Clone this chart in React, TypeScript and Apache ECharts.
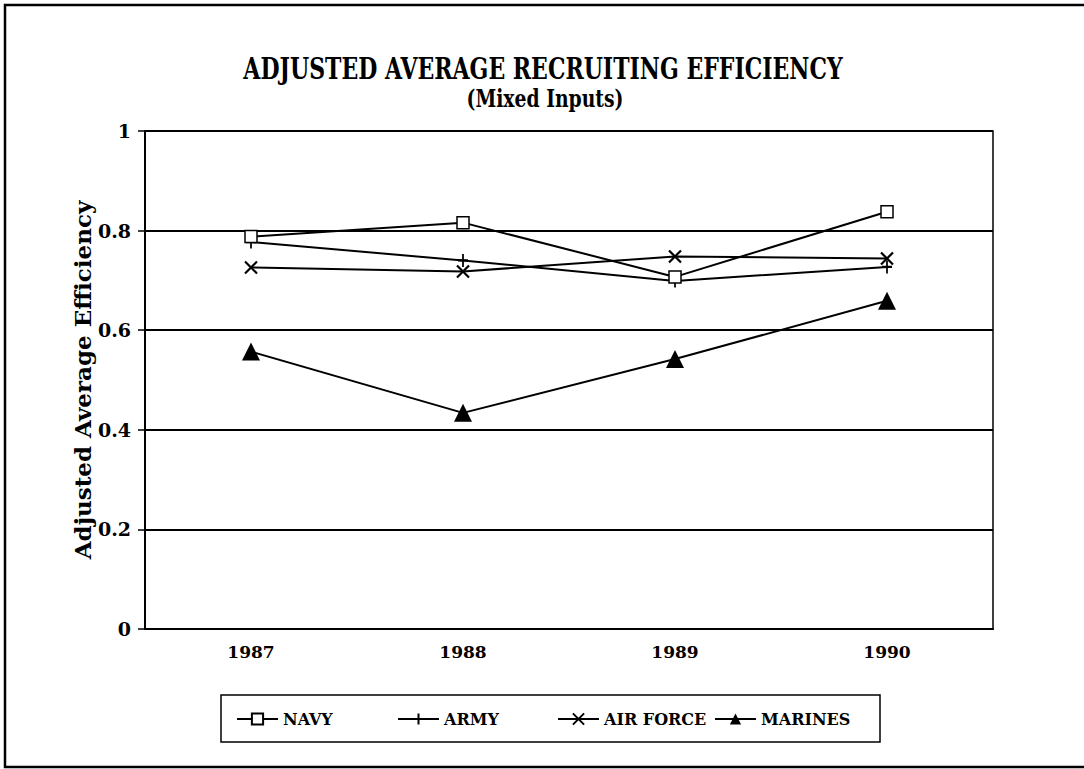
import React, { useEffect, useRef } from "react";
import * as echarts from "echarts";

const titleText = "ADJUSTED AVERAGE RECRUITING EFFICIENCY";
const subtitleText = "(Mixed Inputs)";
const yAxisName = "Adjusted Average Efficiency";
const years = ["1987", "1988", "1989", "1990"];
const seriesNames = ["NAVY", "ARMY", "AIR FORCE", "MARINES"];
const navy = [0.788, 0.816, 0.707, 0.838];
const army = [0.777, 0.74, 0.699, 0.727];
const airForce = [0.726, 0.718, 0.748, 0.744];
const marines = [0.557, 0.434, 0.542, 0.659];

const SERIF = "DejaVu Serif, serif";

function measure(text: string, font: string): number {
  const c = document.createElement("canvas").getContext("2d");
  if (!c) return text.length * 10;
  c.font = font;
  return c.measureText(text).width;
}

export default function App() {
  const ref = useRef<HTMLDivElement>(null);
  useEffect(() => {
    document.body.style.margin = "0";
    if (!ref.current) return;
    const chart = echarts.init(ref.current, null, { renderer: "svg" });

    const titleFont = `bold 30px ${SERIF}`;
    const subFont = `bold 25px ${SERIF}`;
    const titleScale = 600 / measure(titleText, titleFont);
    const subScale = 157 / measure(subtitleText, subFont);

    const lineStyle = { color: "#000", width: 2 };
    const legendFont = {
      fontFamily: SERIF,
      fontWeight: "bold" as const,
      fontSize: 16,
      color: "#000",
    };
    const legendLefts = [231, 392, 552, 709];

    chart.setOption({
      animation: false,
      backgroundColor: "#fff",
      grid: {
        left: 145,
        right: 91,
        top: 131,
        bottom: 140,
        show: true,
        borderColor: "#000",
        borderWidth: 1.5,
        backgroundColor: "transparent",
      },
      legend: seriesNames.map((n, i) => ({
        data: [n],
        left: legendLefts[i],
        top: 706,
        itemWidth: 41,
        itemHeight: 14,
        itemGap: 0,
        textStyle: legendFont,
        selectedMode: false,
      })),
      xAxis: {
        type: "category",
        data: years,
        boundaryGap: true,
        axisLine: { lineStyle: { color: "#000", width: 2 } },
        axisTick: { alignWithLabel: true, length: 6, lineStyle: { color: "#000", width: 1.5 } },
        axisLabel: {
          color: "#000",
          fontFamily: SERIF,
          fontWeight: "bold",
          fontSize: 17,
          margin: 14,
        },
      },
      yAxis: {
        type: "value",
        min: 0,
        max: 1,
        interval: 0.2,
        name: yAxisName,
        nameLocation: "middle",
        nameGap: 51,
        nameMoveOverlap: false,
        nameTextStyle: {
          color: "#000",
          fontFamily: SERIF,
          fontWeight: "bold",
          fontSize: 23,
        },
        axisLine: { show: true, lineStyle: { color: "#000", width: 2 } },
        axisTick: { show: true, length: 7, lineStyle: { color: "#000", width: 1.5 } },
        axisLabel: {
          color: "#000",
          fontFamily: SERIF,
          fontWeight: "bold",
          fontSize: 19,
          margin: 14,
        },
        splitLine: { show: true, lineStyle: { color: "#000", width: 2 } },
      },
      series: [
        {
          name: seriesNames[0],
          type: "line",
          data: navy,
          symbol: "rect",
          symbolSize: 12,
          lineStyle,
          itemStyle: { color: "#fff", borderColor: "#000", borderWidth: 1.5 },
          z: 4,
        },
        {
          name: seriesNames[1],
          type: "line",
          data: army,
          symbol: "path://M5,0L5,12M0,6L10,6",
          symbolSize: [10, 13],
          lineStyle,
          itemStyle: { color: "#000", borderColor: "#000", borderWidth: 2 },
          z: 3,
        },
        {
          name: seriesNames[2],
          type: "line",
          data: airForce,
          symbol: "path://M0,0L10,10M0,10L10,0",
          symbolSize: 12,
          lineStyle,
          itemStyle: { color: "#000", borderColor: "#000", borderWidth: 2.2 },
          z: 3,
        },
        {
          name: seriesNames[3],
          type: "line",
          data: marines,
          symbol: "triangle",
          symbolSize: 18,
          lineStyle,
          itemStyle: { color: "#000" },
          z: 3,
        },
      ],
      graphic: [
        {
          type: "text",
          x: 543,
          y: 68,
          scaleX: titleScale,
          style: {
            text: titleText,
            font: titleFont,
            fill: "#000",
            textAlign: "center",
            textVerticalAlign: "middle",
          },
        },
        {
          type: "text",
          x: 545,
          y: 98,
          scaleX: subScale,
          style: {
            text: subtitleText,
            font: subFont,
            fill: "#000",
            textAlign: "center",
            textVerticalAlign: "middle",
          },
        },
        {
          type: "rect",
          shape: { x: 221, y: 695, width: 659, height: 47 },
          style: { fill: "none", stroke: "#000", lineWidth: 1.5 },
        },
        {
          type: "polyline",
          shape: { points: [[1084, 5], [5, 5], [5, 767], [1084, 767]] },
          style: { fill: "none", stroke: "#000", lineWidth: 2.5 },
        },
      ],
    });
    return () => chart.dispose();
  }, []);
  return <div ref={ref} style={{ width: 1084, height: 769 }} />;
}
